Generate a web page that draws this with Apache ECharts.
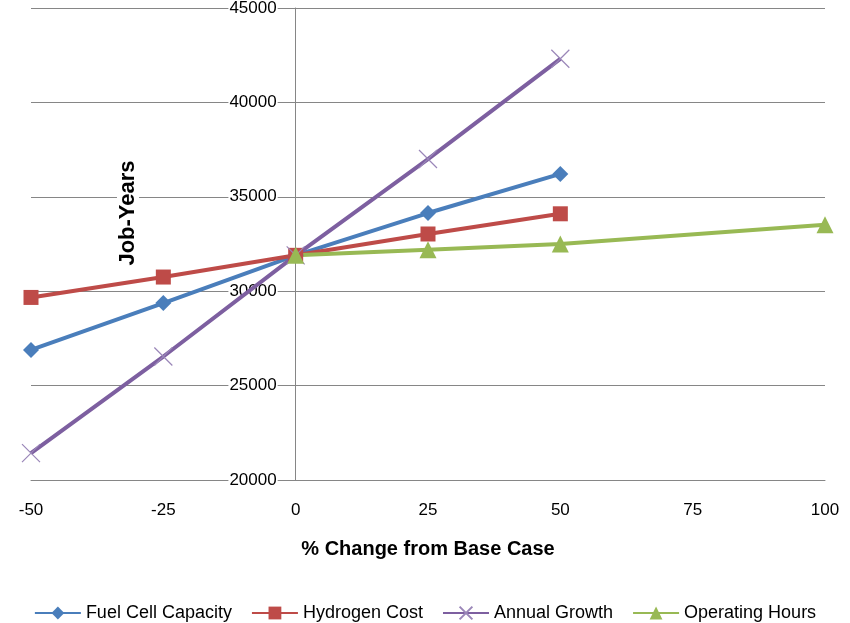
<!DOCTYPE html>
<html>
<head>
<meta charset="utf-8">
<script src="https://cdn.jsdelivr.net/npm/echarts@6/dist/echarts.min.js"></script>
<style>
  html, body { margin: 0; padding: 0; background: #fff; }
  #chart { width: 850px; height: 623px; }
</style>
</head>
<body>
<div id="chart"></div>
<script>
// Sensitivity of job-years to each input (% change from base case)
const seriesNames = ['Fuel Cell Capacity', 'Hydrogen Cost', 'Annual Growth', 'Operating Hours'];

const fuelCellX = [-50, -25, 0, 25, 50];
const fuelCellY = [26890, 29370, 31900, 34140, 36210];

const hydrogenX = [-50, -25, 0, 25, 50];
const hydrogenY = [29670, 30750, 31900, 33030, 34100];

const growthX = [-50, -25, 0, 25, 50];
const growthY = [21420, 26540, 31900, 37000, 42310];

const hoursX = [0, 25, 50, 100];
const hoursY = [31900, 32200, 32500, 33520];

const xTicks = [-50, -25, 0, 25, 50, 75, 100];
const yTicks = [20000, 25000, 30000, 35000, 40000, 45000];

const colors = ['#4A7EBB', '#BE4B48', '#7D5FA0', '#98B954'];
const FONT = 'Liberation Sans';

const pairs = (xs, ys) => xs.map((x, i) => [x, ys[i]]);

const crossPath = 'path://M0,0L10,10M10,0L0,10';

// Plot rectangle
const W = 850, H = 623;
const gridLeft = 31, gridRight = 25, gridTop = 8, gridBottom = 143;
const xMin = xTicks[0], xMax = xTicks[xTicks.length - 1];
// The value axis crosses the horizontal axis at x = 0
const plotWidth = W - gridLeft - gridRight;
const yAxisOffset = -((0 - xMin) / (xMax - xMin)) * plotWidth;

const chart = echarts.init(document.getElementById('chart'));

function lineSeries(name, data, color, symbol, size, extra) {
  return Object.assign({
    name: name,
    type: 'line',
    data: data,
    symbol: symbol,
    symbolSize: size,
    showAllSymbol: true,
    lineStyle: { color: color, width: 4 },
    itemStyle: { color: color },
    emphasis: { disabled: true },
    animation: false
  }, extra || {});
}

chart.setOption({
  animation: false,
  grid: {
    left: gridLeft, right: gridRight, top: gridTop, bottom: gridBottom,
    containLabel: false, outerBoundsMode: 'none'
  },
  xAxis: {
    type: 'value',
    min: xMin,
    max: xMax,
    interval: 25,
    name: '% Change from Base Case',
    nameLocation: 'middle',
    nameGap: 59,
    nameTextStyle: { fontFamily: FONT, fontSize: 20, fontWeight: 'bold', color: '#000' },
    axisLine: { onZero: false, lineStyle: { color: '#868686', width: 1 } },
    axisTick: { show: false },
    splitLine: { show: false },
    axisLabel: {
      fontFamily: FONT, fontSize: 17, color: '#000', margin: 22,
      formatter: v => String(v)
    }
  },
  yAxis: {
    type: 'value',
    position: 'left',
    offset: yAxisOffset,
    min: yTicks[0],
    max: yTicks[yTicks.length - 1],
    interval: 5000,
    axisLine: { show: true, onZero: false, lineStyle: { color: '#868686', width: 1 } },
    axisTick: { show: false },
    splitLine: { show: true, lineStyle: { color: '#868686', width: 1 } },
    axisLabel: {
      fontFamily: FONT, fontSize: 17, color: '#000', margin: 18,
      backgroundColor: '#fff', padding: [0, 1],
      formatter: v => String(v)
    }
  },
  legend: {
    top: 599,
    left: 'center',
    itemWidth: 46,
    itemHeight: 16,
    itemGap: 19,
    textStyle: { fontFamily: FONT, fontSize: 18, color: '#000' },
    data: seriesNames
  },
  graphic: [{
    type: 'text',
    x: 128,
    y: 213,
    rotation: Math.PI / 2,
    style: {
      text: 'Job-Years',
      fontFamily: FONT,
      fontSize: 22,
      fontWeight: 'bold',
      fill: '#000',
      align: 'center',
      verticalAlign: 'middle',
      backgroundColor: '#fff',
      padding: [0, 4]
    },
    z: 100
  }],
  series: [
    lineSeries(seriesNames[0], pairs(fuelCellX, fuelCellY), colors[0], 'diamond', 16),
    lineSeries(seriesNames[1], pairs(hydrogenX, hydrogenY), colors[1], 'rect', 15),
    lineSeries(seriesNames[2], pairs(growthX, growthY), colors[2], crossPath, 18, {
      itemStyle: { color: colors[2], borderColor: '#9A86B8', borderWidth: 1.2 }
    }),
    lineSeries(seriesNames[3], pairs(hoursX, hoursY), colors[3], 'triangle', 17)
  ]
});
</script>
</body>
</html>
